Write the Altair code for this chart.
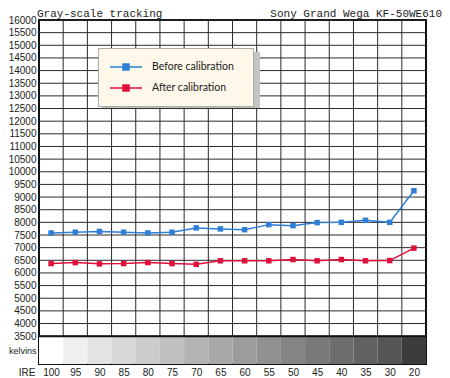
import altair as alt
import pandas as pd

ire = ["100", "95", "90", "85", "80", "75", "70", "65", "60", "55", "50", "45", "40", "35", "30", "20"]
before = [7580, 7610, 7640, 7610, 7580, 7610, 7780, 7740, 7710, 7910, 7870, 7990, 8000, 8080, 8000, 9250]
after = [6370, 6410, 6360, 6370, 6410, 6370, 6340, 6480, 6480, 6480, 6530, 6480, 6530, 6480, 6490, 6980]
shades = ["#ffffff", "#efefef", "#e3e3e3", "#d8d8d8", "#cccccc", "#c0c0c0", "#b3b3b3", "#a8a8a8",
          "#9c9c9c", "#909090", "#858585", "#797979", "#6d6d6d", "#616161", "#555555", "#3c3c3c"]
series_names = ["Before calibration", "After calibration"]
series_colors = ["#2f7fd6", "#e0103c"]
y_ticks = list(range(3500, 16001, 500))
x_bounds = list(range(1, 16))

rows = []
for i in range(len(ire)):
    rows.append({"x": i + 0.5, "K": before[i], "series": series_names[0]})
    rows.append({"x": i + 0.5, "K": after[i], "series": series_names[1]})
df = pd.DataFrame(rows)

band = pd.DataFrame({"x0": list(range(16)), "x1": [i + 1 for i in range(16)],
                     "ire": ire, "y0": [2400] * 16, "y1": [3500] * 16})
hgrid = pd.DataFrame({"y": y_ticks, "x0": [0] * len(y_ticks), "x1": [16] * len(y_ticks)})
vgrid = pd.DataFrame({"x": x_bounds, "y0": [3500] * len(x_bounds), "y1": [16000] * len(x_bounds)})

W, H = 387, 344
xs = alt.Scale(domain=[0, 16], nice=False, zero=False)
ys = alt.Scale(domain=[2400, 16000], nice=False, zero=False)
yvals = [2950] + y_ticks
ire_js = "[" + ",".join("'%s'" % v for v in ire) + "]"

x_axis = alt.Axis(values=list(range(16)), labelExpr=ire_js + "[datum.value]", labelOffset=W / 32,
                  ticks=False, domain=False, grid=False, labelOverlap=False, labelFlush=False,
                  labelFont="Liberation Sans", labelFontSize=10, labelColor="#222", labelPadding=3,
                  labelAngle=0, title="IRE", titleX=-4, titleY=3, titleAlign="right", titleBaseline="top",
                  titleFont="Liberation Sans", titleFontSize=10, titleFontWeight="normal", titleColor="#222")
y_axis = alt.Axis(values=yvals, format="d", labelOverlap=False, labelFlush=False,
                  labelExpr="datum.value < 3000 ? 'kelvins' : datum.label",
                  labelFontSize={"condition": {"test": "datum.value < 3000", "value": 9}, "value": 10},
                  ticks=False, domain=False, grid=False,
                  labelFont="Liberation Sans", labelColor="#222", labelPadding=3, title=None)


def X(field):
    return alt.X(field, scale=xs, axis=x_axis)


def Y(field):
    return alt.Y(field, scale=ys, axis=y_axis)


rect = alt.Chart(band).mark_rect(stroke=None).encode(
    x=X("x0:Q"), x2="x1:Q", y=Y("y0:Q"), y2="y1:Q",
    color=alt.Color("ire:N", scale=alt.Scale(domain=ire, range=shades), legend=None),
)

hlines = alt.Chart(hgrid).mark_rule(color="#2a2a2a", strokeWidth=1).encode(
    x=X("x0:Q"), x2="x1:Q", y=Y("y:Q"))
vlines = alt.Chart(vgrid).mark_rule(color="#2a2a2a", strokeWidth=1).encode(
    x=X("x:Q"), y=Y("y0:Q"), y2="y1:Q")

sep = alt.Chart(band).mark_rule(color="#111", strokeWidth=2).encode(
    x=X("min(x0):Q"), x2="max(x1):Q", y=Y("max(y1):Q"))

shadow = alt.Chart(band).mark_rect(color="#c4c4c4").encode(
    x=alt.value(63), x2=alt.value(221), y=alt.value(32), y2=alt.value(88))

legend = alt.Legend(orient="none", legendX=59, legendY=28, title="\u00a0",
                    titleOrient="right", titleFontSize=2, titlePadding=7,
                    fillColor="#fdf8ea", strokeColor="#aaaaaa", padding=12,
                    symbolType="M-1.17,0H4.17M1,-0.5H2V0.5H1Z", symbolSize=144,
                    symbolStrokeWidth=1.5, rowPadding=8, labelOffset=28,
                    labelFont="Lato", labelFontSize=10.5, labelColor="#222")

sscale = alt.Scale(domain=series_names, range=series_colors)

lines = alt.Chart(df).mark_line(strokeWidth=1.5).encode(
    x=X("x:Q"), y=Y("K:Q"),
    stroke=alt.Stroke("series:N", scale=sscale, sort=series_names, legend=legend),
)
points = alt.Chart(df).mark_square(size=30, opacity=1).encode(
    x=X("x:Q"), y=Y("K:Q"),
    fill=alt.Fill("series:N", scale=sscale, sort=series_names, legend=legend),
)

titles = pd.DataFrame({"t": ["Gray-scale tracking", "Sony Grand Wega KF-50WE610"]})
t_left = alt.Chart(titles.iloc[[0]]).mark_text(font="Liberation Mono", fontSize=11, align="left",
                                               baseline="alphabetic", color="#222").encode(
    text="t:N", x=alt.value(-2), y=alt.value(-3))
t_right = alt.Chart(titles.iloc[[1]]).mark_text(font="Liberation Mono", fontSize=11, align="right",
                                                baseline="alphabetic", color="#222").encode(
    text="t:N", x=alt.value(403), y=alt.value(-3))

chart = alt.layer(rect, hlines, vlines, sep, shadow, lines, points, t_left, t_right).properties(
    width=W, height=H, padding=0, background="white"
).configure_view(stroke="#111", strokeWidth=2)

chart.save("out.html", embed_options={"renderer": "svg", "actions": False})
